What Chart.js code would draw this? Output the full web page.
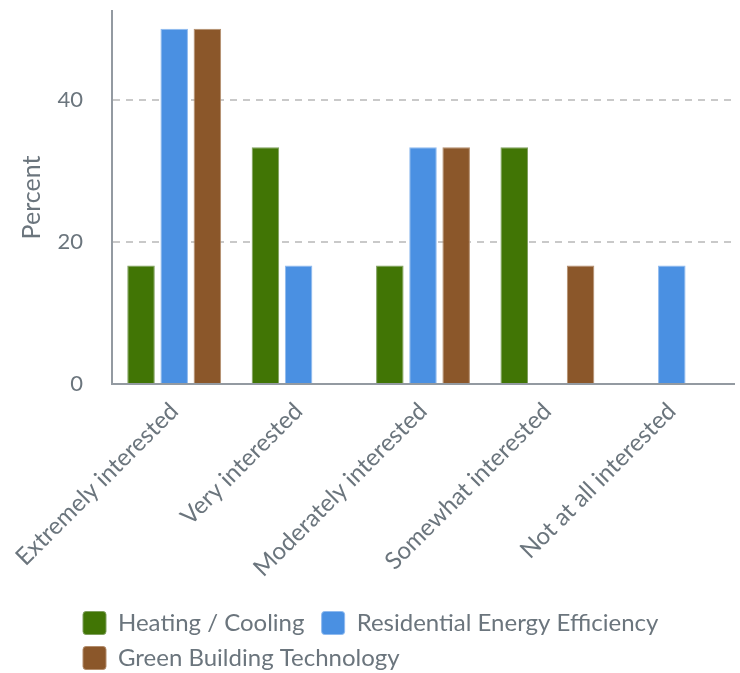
<!DOCTYPE html>
<html><head><meta charset="utf-8">
<script src="https://cdn.jsdelivr.net/npm/chart.js@4/dist/chart.umd.min.js"></script>
<style>html,body{margin:0;padding:0;background:#fff;}</style>
</head><body>
<canvas id="c" width="740" height="673"></canvas>
<script>
const categories = ['Extremely interested', 'Very interested', 'Moderately interested', 'Somewhat interested', 'Not at all interested'];
const seriesNames = ['Heating / Cooling', 'Residential Energy Efficiency', 'Green Building Technology'];
const heatingCooling = [16.67, 33.33, 16.67, 33.33, 0];
const residentialEfficiency = [50, 16.67, 33.33, 0, 16.67];
const greenBuilding = [50, 0, 33.33, 16.67, 0];
const yTicks = [0, 20, 40];
const yTitle = 'Percent';

const textColor = '#6b757d';
const axisColor = '#939aa1';
const FONT = 'Lato';

const legendShift = {
  id: 'legendShift',
  afterLayout(chart) {
    const l = chart.legend;
    const dy = 600 - l.top;
    l.top += dy; l.bottom += dy;
    l.left = 72;
  }
};

new Chart(document.getElementById('c'), {
  type: 'bar',
  data: {
    labels: categories,
    datasets: [
      { label: seriesNames[0] + ' ', data: heatingCooling, backgroundColor: '#417505', borderColor: '#7f9f5e', borderWidth: 1 },
      { label: seriesNames[1], data: residentialEfficiency, backgroundColor: '#4a90e2', borderColor: '#8fbaef', borderWidth: 1 },
      { label: seriesNames[2], data: greenBuilding, backgroundColor: '#8b572a', borderColor: '#b38d6c', borderWidth: 1 }
    ]
  },
  plugins: [legendShift],
  options: {
    responsive: false,
    animation: false,
    maintainAspectRatio: false,
    layout: { padding: { left: 0, right: 6, top: 11, bottom: 0 } },
    datasets: { bar: { categoryPercentage: 0.8, barPercentage: 0.83 } },
    plugins: {
      tooltip: { enabled: false },
      legend: {
        position: 'bottom',
        align: 'start',
        labels: {
          font: { family: FONT, size: 24 },
          color: textColor,
          boxWidth: 23,
          boxHeight: 23,
          padding: 11,
          useBorderRadius: true,
          borderRadius: 3
        }
      }
    },
    scales: {
      x: {
        grid: { display: false, drawTicks: false },
        border: { display: true, color: axisColor, width: 2 },
        ticks: {
          font: { family: FONT, size: 24 },
          color: textColor,
          minRotation: 45,
          maxRotation: 45,
          padding: 13
        },
        afterFit: (s) => { s.height = 209; s.paddingLeft = 0; s.paddingRight = 0; }
      },
      y: {
        min: 0,
        max: 52.5,
        grid: {
          drawTicks: false,
          color: (ctx) => (ctx.tick && ctx.tick.value === 0) ? 'rgba(0,0,0,0)' : '#c9c9c9',
          lineWidth: 2
        },
        border: { display: true, color: axisColor, width: 2, dash: [7, 6] },
        ticks: {
          font: { family: FONT, size: 22 },
          color: textColor,
          padding: 29
        },
        afterBuildTicks: (s) => { s.ticks = yTicks.map(v => ({ value: v })); },
        afterFit: (s) => { s.width = 112; s.paddingTop = 0; s.paddingBottom = 0; },
        title: {
          display: true,
          text: yTitle,
          font: { family: FONT, size: 25 },
          color: textColor,
          padding: { top: 17, bottom: 0 }
        }
      }
    }
  }
});
</script>
</body></html>
